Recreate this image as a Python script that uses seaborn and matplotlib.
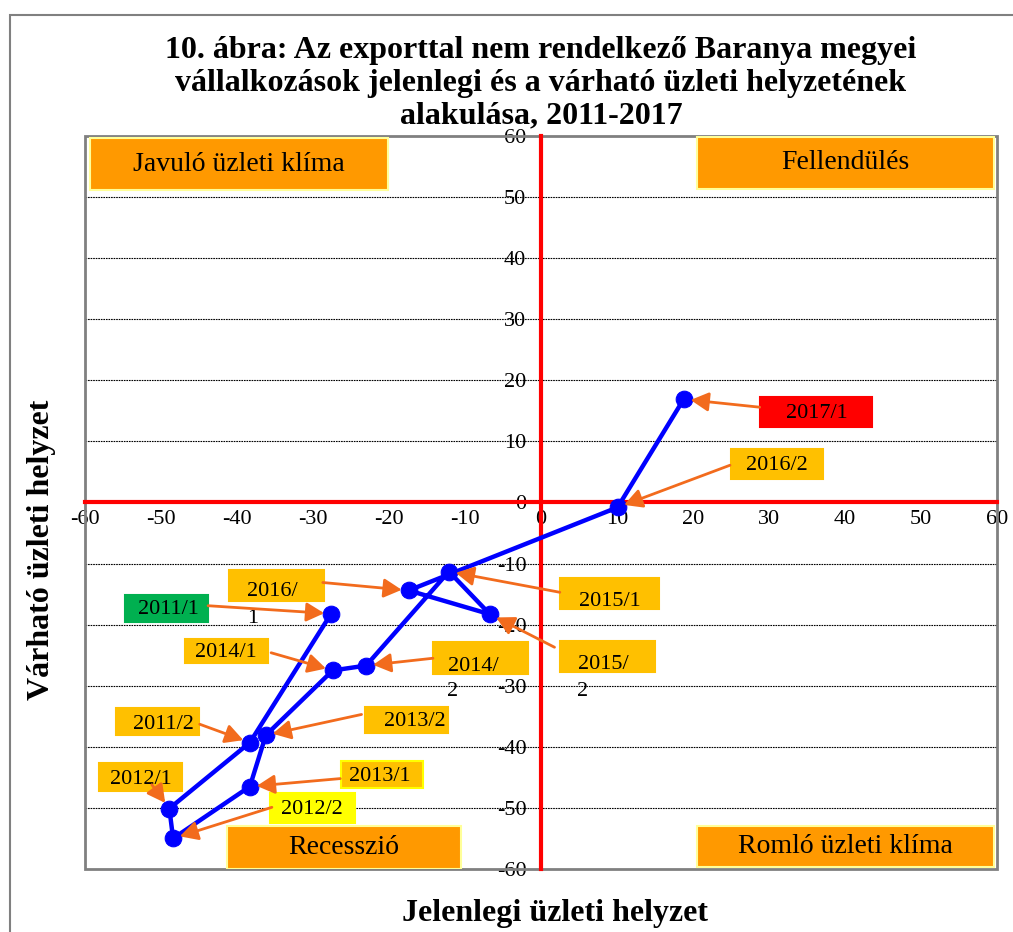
import matplotlib
matplotlib.use("Agg")
import matplotlib.pyplot as plt
from matplotlib.patches import Rectangle
import pandas as pd
import seaborn as sns

# Data: current (x) vs expected (y) business situation, by half-year
periods = ["2011/1", "2011/2", "2012/1", "2012/2", "2013/1", "2013/2", "2014/1",
           "2014/2", "2015/1", "2015/2", "2016/1", "2016/2", "2017/1"]
current = [-27.6, -38.3, -48.9, -48.4, -38.3, -36.2, -27.4,
           -23.0, -12.1, -6.7, -17.4, 10.1, 18.8]
expected = [-18.2, -39.3, -50.1, -55.0, -46.5, -38.1, -27.5,
            -26.7, -11.3, -18.3, -14.4, -0.8, 16.9]
ticks = list(range(-60, 61, 10))

title = ("10. ábra: Az exporttal nem rendelkező Baranya megyei\n"
         "vállalkozások jelenlegi és a várható üzleti helyzetének\n"
         "alakulása, 2011-2017")
quadrants = ["Javuló üzleti klíma", "Fellendülés", "Recesszió", "Romló üzleti klíma"]

# label layout: box (x0, x1, ytop, ybot), text position, arrow start, box colour, overflow text
GOLD = "#FFC000"
label_layout = {
    "2011/1": ((-54.7, -43.8, -15.1, -19.5), (-49.0, -17.6), (-43.8, -16.9), "#00B050", None),
    "2011/2": ((-55.9, -45.0, -33.7, -38.1), (-49.7, -36.3), (-44.9, -36.3), GOLD, None),
    "2012/1": ((-58.2, -47.2, -42.7, -47.2), (-52.6, -45.3), (-51.2, -46.2), GOLD, None),
    "2012/2": ((-35.7, -24.5, -47.6, -52.4), (-30.1, -50.3), (-35.4, -49.9), "#FFFF00", None),
    "2013/1": ((-26.3, -15.5, -42.4, -46.7), (-21.2, -44.9), (-26.4, -45.2), GOLD, None),
    "2013/2": ((-23.2, -12.2, -33.4, -37.8), (-16.6, -35.9), (-23.6, -34.7), GOLD, None),
    "2014/1": ((-46.8, -35.9, -22.4, -26.2), (-41.4, -24.6), (-35.5, -24.6), GOLD, None),
    "2014/2": ((-14.2, -1.7, -22.8, -28.0), (-8.9, -26.8), (-14.2, -25.5), GOLD, (-11.6, -30.9)),
    "2015/1": ((2.5, 15.5, -12.3, -17.5), (9.1, -16.2), (2.5, -14.7), GOLD, None),
    "2015/2": ((2.5, 15.0, -22.6, -27.8), (8.2, -26.6), (1.8, -23.7), GOLD, (5.5, -30.9)),
    "2016/1": ((-41.1, -28.6, -11.0, -16.2), (-35.4, -14.6), (-28.7, -13.1), GOLD, (-37.9, -19.0)),
    "2016/2": ((25.0, 37.2, 8.7, 3.8), (31.1, 6.0), (24.9, 6.1), GOLD, None),
    "2017/1": ((28.9, 43.6, 17.2, 12.4), (36.3, 14.5), (28.8, 15.6), "#FF0000", None),
}
quadrant_boxes = [(-59.3, -20.1, 59.6, 51.1), (20.5, 59.7, 59.9, 51.4),
                  (-41.3, -10.5, -52.9, -60.0), (20.5, 59.7, -53.0, -59.6)]

sns.set_theme(style="white")
plt.rcParams["font.family"] = ["Liberation Serif", "DejaVu Serif"]
plt.rcParams["text.color"] = "black"

df = pd.DataFrame({"period": periods, "current": current, "expected": expected})

fig = plt.figure(figsize=(10.13, 9.32), dpi=100)
ax = fig.add_axes([0.0839, 0.0676, 0.900, 0.7865])

# outer chart frame
fig.patches.append(Rectangle((10 / 1013, -0.05), 1.1, 1 - 15 / 932 + 0.05,
                             transform=fig.transFigure, fill=False,
                             edgecolor="#808080", linewidth=1.5))

for y in ticks:
    if abs(y) < 60 and y != 0:
        ax.axhline(y, color="black", linewidth=0.8, linestyle=(0, (1.5, 0.8)), zorder=1)

sns.lineplot(data=df, x="current", y="expected", sort=False, estimator=None,
             color="#0000FF", linewidth=3.2, marker="o", markersize=12,
             markeredgecolor="#0000FF", ax=ax, zorder=5)

ax.set_xlim(-60, 60)
ax.set_ylim(-60, 60)
ax.set_xticks(ticks)
ax.set_yticks(ticks)
ax.set_xticklabels([str(t) for t in ticks])
ax.set_yticklabels([str(t) for t in ticks])
ax.set_xlabel("")
ax.set_ylabel("")

for side in ["top", "right"]:
    ax.spines[side].set_visible(False)
for side in ["left", "bottom"]:
    ax.spines[side].set_position(("data", 0))
    ax.spines[side].set_color("#FF0000")
    ax.spines[side].set_linewidth(3)
    ax.spines[side].set_zorder(3)
ax.tick_params(axis="both", which="major", direction="out", length=3.5, width=3,
               color="#FF0000", labelsize=16, labelcolor="black")
ax.tick_params(axis="x", pad=2)
ax.tick_params(axis="y", pad=7)
ax.add_patch(Rectangle((0, 0), 1, 1, transform=ax.transAxes, fill=False,
                       edgecolor="#808080", linewidth=2, zorder=2, clip_on=False))

# quadrant labels
for name, (x0, x1, yt, yb) in zip(quadrants, quadrant_boxes):
    ax.add_patch(Rectangle((x0, yb), x1 - x0, yt - yb, facecolor="#FF9900",
                           edgecolor="#FFFF99", linewidth=1.5, zorder=6))
    ax.text((x0 + x1) / 2, (yt + yb) / 2, name, ha="center", va="center",
            fontsize=20, zorder=7)

# period labels with arrows
for name, ((x0, x1, yt, yb), tpos, start, color, extra) in label_layout.items():
    edge = "#FFFF00" if name == "2013/1" else color
    ax.add_patch(Rectangle((x0, yb), x1 - x0, yt - yb, facecolor=color,
                           edgecolor=edge, linewidth=1.5, zorder=6))
    text = name
    if extra is not None:
        text = name[:5]
        ax.text(extra[0], extra[1], name[5:], ha="center", va="center",
                fontsize=16, zorder=7)
    ax.text(tpos[0], tpos[1], text, ha="center", va="center", fontsize=16, zorder=7)
    idx = periods.index(name)
    ax.annotate("", xy=(current[idx], expected[idx]), xytext=start,
                arrowprops=dict(arrowstyle="-|>,head_length=0.6,head_width=0.32",
                                mutation_scale=18, color="#F26B1D", linewidth=2,
                                shrinkA=0, shrinkB=5),
                zorder=8)

fig.text(541 / 1013, 1 - 36 / 932, title, ha="center", va="top", fontsize=23,
         fontweight="bold", linespacing=1.17)
fig.text(555 / 1013, 1 - 913 / 932, "Jelenlegi üzleti helyzet", ha="center",
         va="center", fontsize=23, fontweight="bold")
fig.text(42 / 1013, 1 - 550 / 932, "Várható üzleti helyzet", ha="center",
         va="center", rotation=90, fontsize=23, fontweight="bold")

fig.savefig("out.png", dpi=100)
